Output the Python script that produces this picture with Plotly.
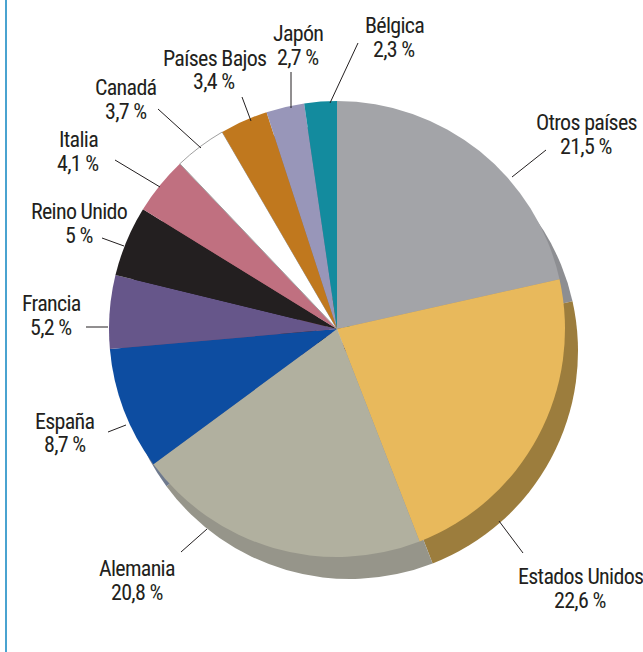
import plotly.graph_objects as go

# ---- data ----
paises = ["Otros países", "Estados Unidos", "Alemania", "España", "Francia",
          "Reino Unido", "Italia", "Canadá", "Países Bajos", "Japón", "Bélgica"]
porcentajes = [21.5, 22.6, 20.8, 8.7, 5.2, 5.0, 4.1, 3.7, 3.4, 2.7, 2.3]
etiquetas_valor = ["21,5 %", "22,6 %", "20,8 %", "8,7 %", "5,2 %", "5 %",
                   "4,1 %", "3,7 %", "3,4 %", "2,7 %", "2,3 %"]

# ---- styles ----
colores = ["#a3a4a8", "#e8b95c", "#b1b09f", "#0d4da1", "#66568a", "#231f20",
           "#c07080", "#ffffff", "#c0781e", "#9896b9", "#138b9e"]
colores_sombra = ["#8d8e92", "#9c7d3d", "#96958a", "#6f7a8e", "#514570", "#1a1718",
                  "#9a5a66", "#cccccc", "#9a6018", "#7a7894", "#0f6f7e"]
bordes_ancho = [0, 0, 0, 0, 0, 0, 0, 1, 0, 0, 0]

W, H = 643, 652
cx, cy, r = 337, 329, 228
sx, sy = 13, 22  # depth offset (px)

def px_x(x):
    return x / W

def px_y(y):
    return 1 - y / H

# label layout (pixel positions): text centre (between the two lines),
# leader line start, leader line end
label_layout = {
    "Otros países":   ((586, 134), (546, 150), (512, 177)),
    "Estados Unidos": ((580, 588), (523, 553), (499, 521)),
    "Alemania":       ((137, 580), (181, 552), (207, 529)),
    "España":         ((65, 433), (108, 432), (126, 425)),
    "Francia":        ((51, 315), (86, 327), (108, 327)),
    "Reino Unido":    ((79, 223), (102, 238), (124, 246)),
    "Italia":         ((78, 151), (115, 160), (160, 187)),
    "Canadá":         ((126, 99), (158, 109), (201, 148)),
    "Países Bajos":   ((214, 70), (242, 97), (251, 121)),
    "Japón":          ((298, 45), (291, 72), (291, 108)),
    "Bélgica":        ((394, 37), (358, 43), (330, 103)),
}
LINE_GAP = 24

fig = go.Figure()

# depth (shadow) pie
fig.add_trace(go.Pie(
    labels=paises, values=porcentajes, sort=False, direction="clockwise",
    rotation=0, textinfo="none", hoverinfo="skip", showlegend=False,
    marker=dict(colors=colores_sombra, line=dict(width=0)),
    domain=dict(x=[px_x(cx - r + sx), px_x(cx + r + sx)],
                y=[px_y(cy + r + sy), px_y(cy - r + sy)]),
))

# main pie
fig.add_trace(go.Pie(
    labels=paises, values=porcentajes, sort=False, direction="clockwise",
    rotation=0, textinfo="none", hoverinfo="label+percent", showlegend=False,
    marker=dict(colors=colores, line=dict(width=bordes_ancho, color="#a0a0a0")),
    domain=dict(x=[px_x(cx - r), px_x(cx + r)],
                y=[px_y(cy + r), px_y(cy - r)]),
))

font_fam = "Roboto Condensed, DejaVu Sans Condensed, sans-serif"
font = dict(family=font_fam, size=22, color="#231f20")
shapes = []
annotations = []
for pais, val in zip(paises, etiquetas_valor):
    (tx, ty), (x0, y0), (x1, y1) = label_layout[pais]
    for txt, yy in ((pais, ty - LINE_GAP / 2), (val, ty + LINE_GAP / 2)):
        annotations.append(dict(
            x=px_x(tx), y=px_y(yy), xref="paper", yref="paper",
            text=f'<span style="letter-spacing:-0.7px">{txt}</span>',
            showarrow=False, align="center",
            xanchor="center", yanchor="middle", font=font,
        ))
    shapes.append(dict(type="line", xref="paper", yref="paper",
                       x0=px_x(x0), y0=px_y(y0), x1=px_x(x1), y1=px_y(y1),
                       line=dict(color="#231f20", width=1)))

# left frame line
shapes.append(dict(type="line", xref="paper", yref="paper",
                   x0=px_x(6), x1=px_x(6), y0=0, y1=1,
                   line=dict(color="#4aa3d0", width=2)))

fig.update_layout(
    width=W, height=H, margin=dict(l=0, r=0, t=0, b=0),
    paper_bgcolor="white", plot_bgcolor="white",
    shapes=shapes, annotations=annotations,
)

fig.write_html("out.html", config={"displayModeBar": False},
               post_script="document.body.style.margin='0';")
